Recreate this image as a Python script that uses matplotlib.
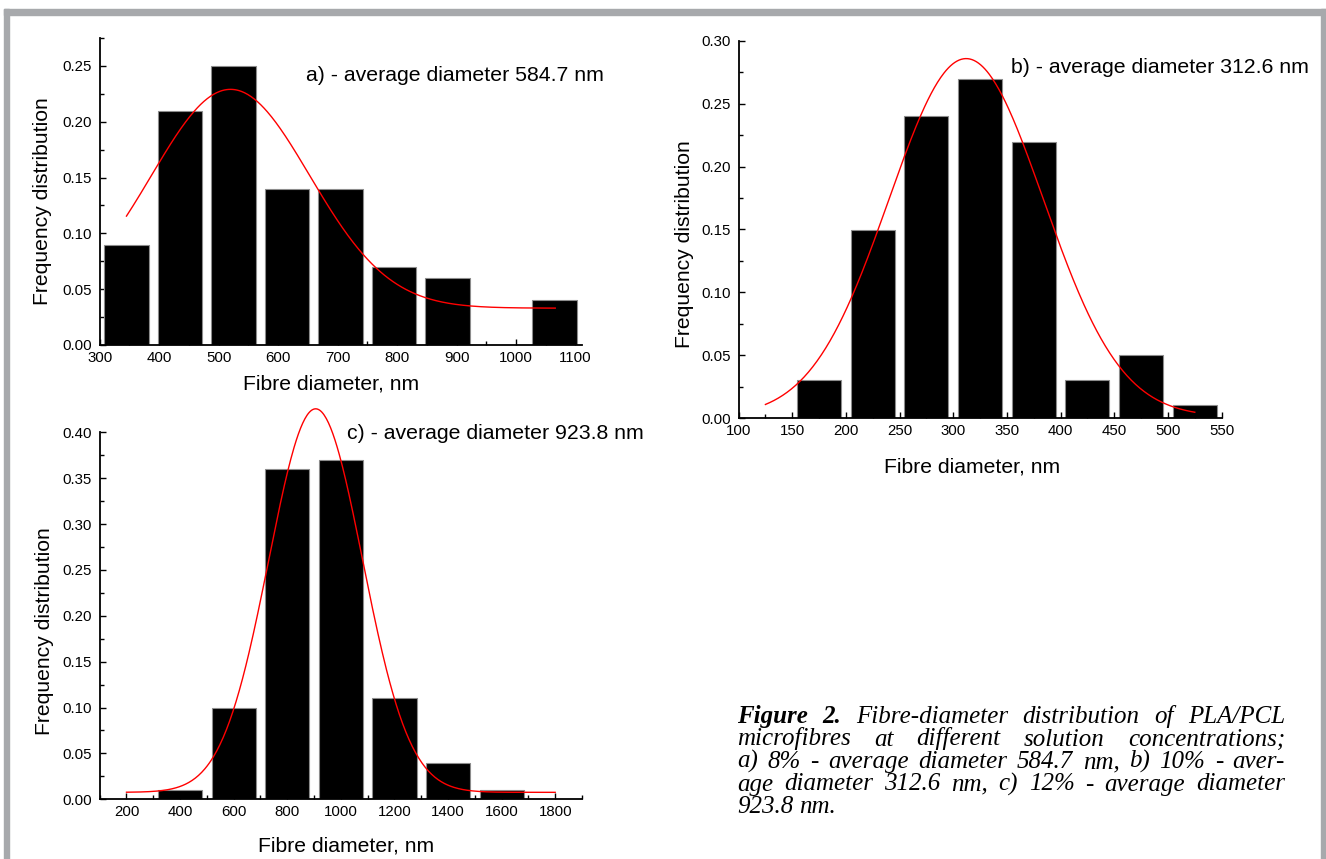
import matplotlib
matplotlib.use("Agg")
import matplotlib.pyplot as plt
import numpy as np
from matplotlib.patches import Rectangle
from matplotlib.ticker import MultipleLocator, FormatStrFormatter

plt.rcParams['font.family'] = ['Liberation Sans', 'DejaVu Sans']

# ---- data ----
# a) 8 %
diam_a = [345, 435, 525, 615, 705, 795, 885, 975, 1065]
freq_a = [0.09, 0.21, 0.25, 0.14, 0.14, 0.07, 0.06, 0.0, 0.04]
# b) 10 %
diam_b = [175, 225, 275, 325, 375, 425, 475, 525]
freq_b = [0.03, 0.15, 0.24, 0.27, 0.22, 0.03, 0.05, 0.01]
# c) 12 %
diam_c = [400, 600, 800, 1000, 1200, 1400, 1600]
freq_c = [0.01, 0.10, 0.36, 0.37, 0.11, 0.04, 0.01]

# Gauss fit parameters (offset, centre, width, amplitude, x-range)
fit_a = dict(y0=0.033, xc=520, w=133, A=0.196, x0=345, x1=1066)
fit_b = dict(y0=0.001, xc=312, w=72, A=0.285, x0=125, x1=525)
fit_c = dict(y0=0.0076, xc=906, w=175, A=0.418, x0=200, x1=1800)

labels = ["a) - average diameter 584.7 nm",
          "b) - average diameter 312.6 nm",
          "c) - average diameter 923.8 nm"]

W, H = 1326, 859
fig = plt.figure(figsize=(W / 100, H / 100), dpi=100)


def px_axes(l, t, r, b):
    return fig.add_axes([l / W, 1 - b / H, (r - l) / W, (b - t) / H])


def gauss(p):
    x = np.linspace(p['x0'], p['x1'], 400)
    return x, p['y0'] + p['A'] * np.exp(-(x - p['xc']) ** 2 / (2 * p['w'] ** 2))


def panel(ax, x, y, width, fit, xlim, ylim, xmaj, xmin, ymaj, ymin):
    ax.bar(x, y, width=width, color='black', edgecolor='#8c8c8c', linewidth=0.8, zorder=2)
    fx, fy = gauss(fit)
    ax.plot(fx, fy, color='red', lw=1.0, zorder=3, clip_on=False)
    ax.set_xlim(*xlim)
    ax.set_ylim(*ylim)
    ax.spines['top'].set_visible(False)
    ax.spines['right'].set_visible(False)
    for s in ('left', 'bottom'):
        ax.spines[s].set_linewidth(1.3)
        ax.spines[s].set_zorder(4)
    ax.xaxis.set_major_locator(MultipleLocator(xmaj))
    ax.xaxis.set_minor_locator(MultipleLocator(xmin))
    ax.yaxis.set_major_locator(MultipleLocator(ymaj))
    ax.yaxis.set_minor_locator(MultipleLocator(ymin))
    ax.yaxis.set_major_formatter(FormatStrFormatter('%.2f'))
    ax.tick_params(which='both', direction='in', width=1.0, labelsize=10.8)
    ax.tick_params(which='major', length=4.5)
    ax.tick_params(which='minor', length=2.8)
    ax.tick_params(axis='y', pad=5.5)
    ax.tick_params(axis='x', pad=4)


ax_a = px_axes(99.7, 38, 582, 345)
panel(ax_a, diam_a, freq_a, 75, fit_a, (300, 1111), (0, 0.275), 100, 50, 0.05, 0.025)
ax_a.set_xticks(np.arange(300, 1101, 100))

ax_b = px_axes(738.6, 41, 1221.6, 418)
panel(ax_b, diam_b, freq_b, 41, fit_b, (100, 550), (0, 0.30), 50, 25, 0.05, 0.025)

ax_c = px_axes(99.7, 432.3, 582, 799.3)
panel(ax_c, diam_c, freq_c, 165, fit_c, (100, 1900), (0, 0.40), 200, 100, 0.05, 0.025)
ax_c.set_xticks(np.arange(200, 1801, 200))


def ftxt(x, y, s, **kw):
    return fig.text(x / W, 1 - y / H, s, **kw)


# axis labels
for (xx, yy) in [(331, 390), (972, 473), (346, 852)]:
    ftxt(xx, yy, "Fibre diameter, nm", fontsize=15.2, ha='center', va='baseline')
for (xx, yy) in [(43, 201), (684, 244), (45, 631)]:
    ftxt(xx, yy, "Frequency distribution", fontsize=15.2, rotation=90,
         ha='center', va='center')

# panel annotations
for (xx, yy), s in zip([(306, 81), (1011, 73), (347, 439)], labels):
    ftxt(xx, yy, s, fontsize=15.3, ha='left', va='baseline')

# caption, justified
caption = [
    [("Figure", 'bold'), ("2.", 'bold'), ("Fibre-diameter", 'normal'), ("distribution", 'normal'),
     ("of", 'normal'), ("PLA/PCL", 'normal')],
    [(w, 'normal') for w in "microfibres at different solution concentrations;".split()],
    [(w, 'normal') for w in "a) 8% - average diameter 584.7 nm, b) 10% - aver-".split()],
    [(w, 'normal') for w in "age diameter 312.6 nm, c) 12% - average diameter".split()],
    [(w, 'normal') for w in "923.8 nm.".split()],
]
cap_left, cap_right = 737, 1285
cap_base = [723, 745.5, 768, 790.5, 813]

fig.canvas.draw()
rend = fig.canvas.get_renderer()
for li, words in enumerate(caption):
    items = []
    for w, wt in words:
        t = ftxt(0, cap_base[li], w, fontsize=18, family=['Liberation Serif', 'DejaVu Serif'],
                 style='italic', weight=wt, va='baseline', ha='left')
        items.append(t)
    widths = [t.get_window_extent(rend).width for t in items]
    if li < len(caption) - 1:
        gap = (cap_right - cap_left - sum(widths)) / (len(items) - 1)
    else:
        gap = 6
    x = cap_left
    for t, wd in zip(items, widths):
        t.set_x(x / W)
        x += wd + gap

# grey frame
grey = '#a7a9ac'
fig.patches.append(Rectangle((4 / W, 1 - 15 / H), (W - 4) / W, 6 / H,
                             transform=fig.transFigure, color=grey, zorder=0))
fig.patches.append(Rectangle((4 / W, 0), 5 / W, 1 - 9 / H,
                             transform=fig.transFigure, color=grey, zorder=0))
fig.patches.append(Rectangle((1321 / W, 0), 5 / W, 1 - 9 / H,
                             transform=fig.transFigure, color=grey, zorder=0))

fig.savefig("out.png", dpi=100)
